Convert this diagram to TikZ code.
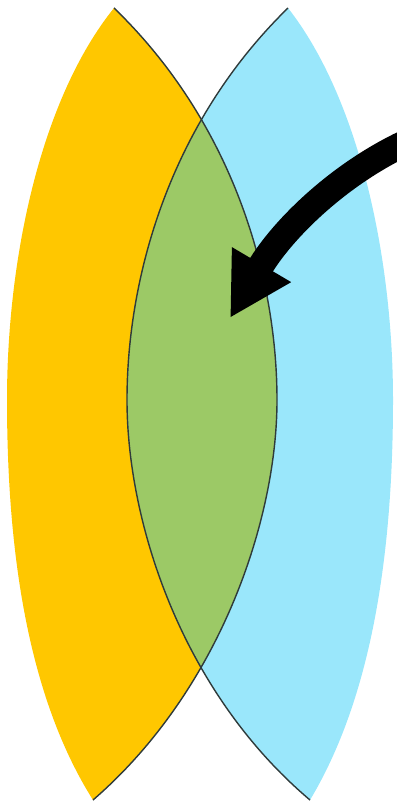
\documentclass[tikz,border=0pt]{standalone}
\usetikzlibrary{arrows.meta}
\definecolor{lensorange}{HTML}{FFC700}
\definecolor{lensblue}{HTML}{9AE7FB}
\definecolor{lensgreen}{HTML}{9CC966}
\definecolor{edgegray}{HTML}{2F3B3B}
\begin{document}
\begin{tikzpicture}[x=0.025cm, y=-0.025cm,
    lensedge/.style={draw=edgegray, line width=1pt},
    bigarrow/.style={line width=0.66cm, -{Triangle[length=1.55cm, width=1.6cm]}}]
    \useasboundingbox (0,0) rectangle (396,806);

    % Tips of the two lenses
    \coordinate (OT) at (114,8);
    \coordinate (OB) at (93,800);
    \coordinate (BT) at (288,8);
    \coordinate (BB) at (310,800);

    % Widest points of the lenses
    \coordinate (OL) at (7,400);
    \coordinate (OR) at (277,400);
    \coordinate (BL) at (127,400);
    \coordinate (BR) at (393,400);

    % Arrow ends
    \coordinate (ArrowStart) at (412,140);
    \coordinate (ArrowTip) at (230,318);

    % Outlines of the lenses
    \def\orangelens{(OT) .. controls (40,100) and (7,260) .. (OL)
        .. controls (7,560) and (30,700) .. (OB)
        .. controls (220,690) and (277,520) .. (OR)
        .. controls (277,280) and (235,125) .. (OT) -- cycle}
    \def\bluelens{(BT) .. controls (360,100) and (393,260) .. (BR)
        .. controls (393,560) and (370,700) .. (BB)
        .. controls (180,690) and (127,520) .. (BL)
        .. controls (127,280) and (168,125) .. (BT) -- cycle}

    % Fill both lenses
    \fill[lensorange] \orangelens;
    \fill[lensblue] \bluelens;

    % Overlap in green
    \begin{scope}
        \clip \orangelens;
        \fill[lensgreen] \bluelens;
    \end{scope}

    % Inner edges
    \draw[lensedge] (OT) .. controls (235,125) and (277,280) .. (OR)
        .. controls (277,520) and (220,690) .. (OB);
    \draw[lensedge] (BT) .. controls (168,125) and (127,280) .. (BL)
        .. controls (127,520) and (180,690) .. (BB);

    % Arrow into the overlap
    \draw[bigarrow] (ArrowStart) .. controls (340,172) and (282,230) .. (ArrowTip);
\end{tikzpicture}
\end{document}
